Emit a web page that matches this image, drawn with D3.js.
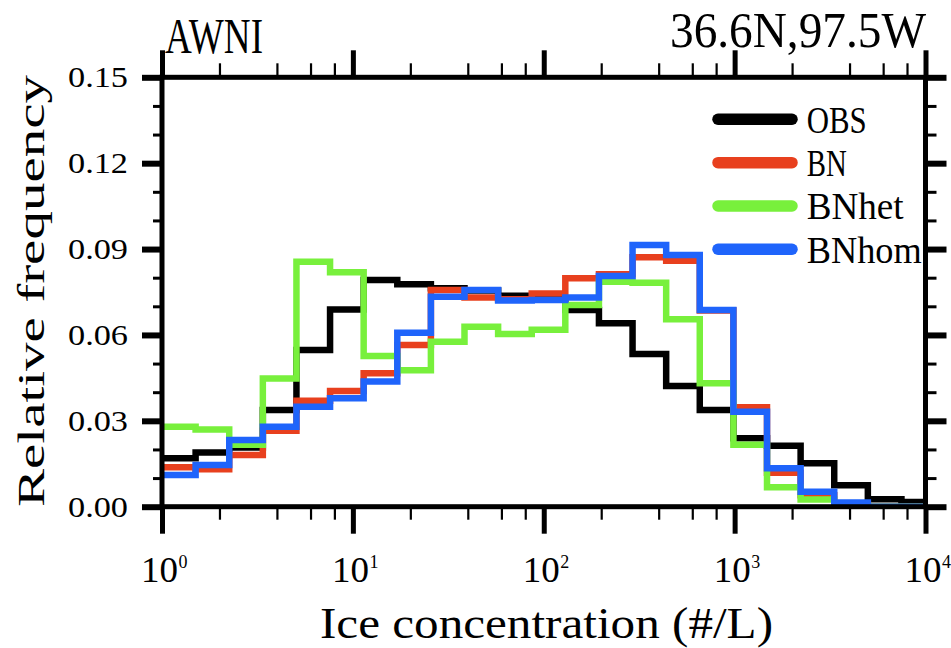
<!DOCTYPE html>
<html>
<head>
<meta charset="utf-8">
<script src="https://cdn.jsdelivr.net/npm/d3@7"></script>
<style>
  html, body { margin: 0; padding: 0; background: #fff; }
  svg { display: block; }
  text { font-family: "Liberation Serif", "DejaVu Serif", serif; fill: #000; }
</style>
</head>
<body>
<svg id="chart" width="951" height="648"></svg>
<script>
// ---- data ----
const binEdges = [1, 1.5, 2.25, 3.375, 5.0625, 7.594, 11.39, 17.09, 25.63, 38.44, 57.67, 86.5,
  129.7, 194.6, 291.9, 437.9, 656.8, 985.3, 1477.9, 2216.8, 3325.3, 4987.9, 7481.8, 11222.7];
const obs   = [0.0169, 0.0189, 0.0207, 0.0338, 0.0547, 0.0689, 0.0792, 0.0777, 0.0763, 0.0755, 0.0737, 0.0725,
  0.0687, 0.0641, 0.0533, 0.0422, 0.0338, 0.0239, 0.0213, 0.0152, 0.0075, 0.0026, 0.0016];
const bn    = [0.0138, 0.0131, 0.0181, 0.0265, 0.0370, 0.0404, 0.0466, 0.0565, 0.0757, 0.0731, 0.0725, 0.0745,
  0.0798, 0.0812, 0.0871, 0.0859, 0.0685, 0.0347, 0.0119, 0.0040, 0.0010, 0, 0];
const bnhet = [0.0279, 0.0270, 0.0216, 0.0448, 0.0856, 0.0819, 0.0526, 0.0477, 0.0576, 0.0629, 0.0603, 0.0618,
  0.0705, 0.0786, 0.0782, 0.0655, 0.0431, 0.0216, 0.0068, 0.0025, 0.0005, 0, 0];
const bnhom = [0.0111, 0.0146, 0.0233, 0.0279, 0.0349, 0.0379, 0.0437, 0.0608, 0.0733, 0.0757, 0.0720, 0.0722,
  0.0731, 0.0806, 0.0914, 0.0879, 0.0687, 0.0332, 0.0134, 0.0052, 0.0015, 0, 0];
const seriesNames = ["OBS", "BN", "BNhet", "BNhom"];
const seriesColors = ["#000000", "#e8401e", "#78f03c", "#1f64fb"];
const xMajorTicks = [1, 10, 100, 1000, 10000];
const xTickExponents = ["0", "1", "2", "3", "4"];
const xMinorTicks = [2,4,6,8,20,40,60,80,200,400,600,800,2000,4000,6000,8000];
const yMajorTicks = [0, 0.03, 0.06, 0.09, 0.12, 0.15];
const yTickLabels = ["0.00", "0.03", "0.06", "0.09", "0.12", "0.15"];
const yMinorTicks = [0.01,0.02,0.04,0.05,0.07,0.08,0.10,0.11,0.13,0.14];
const titleLeft = "AWNI";
const titleRight = "36.6N,97.5W";
const xTitle = "Ice concentration (#/L)";
const yTitle = "Relative frequency";

// ---- layout ----
const L = 162, R = 925.5, T = 77.3, B = 506.7;
const svg = d3.select("#chart");
const x = d3.scaleLog().domain([1, 10000]).range([L, R]);
const y = d3.scaleLinear().domain([0, 0.15]).range([B, T]);

svg.append("defs").append("clipPath").attr("id", "plotclip")
  .append("rect").attr("x", L).attr("y", T).attr("width", R - L).attr("height", B - T);

// ---- histogram step lines ----
const allSeries = [obs, bn, bnhet, bnhom];
const gLines = svg.append("g").attr("clip-path", "url(#plotclip)");
allSeries.forEach((vals, si) => {
  const pts = [];
  vals.forEach((v, i) => {
    pts.push([x(binEdges[i]), y(v)]);
    pts.push([x(binEdges[i + 1]), y(v)]);
  });
  gLines.append("path")
    .attr("d", d3.line()(pts))
    .attr("fill", "none")
    .attr("stroke", seriesColors[si])
    .attr("stroke-width", 6.5)
    .attr("stroke-linejoin", "miter");
});

// ---- axes ticks ----
function styleAxis(g, w) {
  g.select(".domain").remove();
  g.selectAll(".tick line").attr("stroke", "#000").attr("stroke-width", w);
  g.selectAll(".tick text").remove();
}
svg.append("g").attr("transform", `translate(0,${B})`)
  .call(d3.axisBottom(x).tickValues(xMajorTicks).tickSize(27).tickFormat(""))
  .call(g => styleAxis(g, 5));
svg.append("g").attr("transform", `translate(0,${B})`)
  .call(d3.axisBottom(x).tickValues(xMinorTicks).tickSize(13).tickFormat(""))
  .call(g => styleAxis(g, 2.2));
svg.append("g").attr("transform", `translate(0,${T})`)
  .call(d3.axisTop(x).tickValues(xMajorTicks).tickSize(27).tickFormat(""))
  .call(g => styleAxis(g, 5));
svg.append("g").attr("transform", `translate(0,${T})`)
  .call(d3.axisTop(x).tickValues(xMinorTicks).tickSize(14).tickFormat(""))
  .call(g => styleAxis(g, 2.2));
svg.append("g").attr("transform", `translate(${L},0)`)
  .call(d3.axisLeft(y).tickValues(yMajorTicks).tickSize(20).tickFormat(""))
  .call(g => styleAxis(g, 6));
svg.append("g").attr("transform", `translate(${L},0)`)
  .call(d3.axisLeft(y).tickValues(yMinorTicks).tickSize(9).tickFormat(""))
  .call(g => styleAxis(g, 3));
svg.append("g").attr("transform", `translate(${R},0)`)
  .call(d3.axisRight(y).tickValues(yMajorTicks).tickSize(21).tickFormat(""))
  .call(g => styleAxis(g, 6));
svg.append("g").attr("transform", `translate(${R},0)`)
  .call(d3.axisRight(y).tickValues(yMinorTicks).tickSize(11).tickFormat(""))
  .call(g => styleAxis(g, 3));

// ---- frame ----
svg.append("rect").attr("x", L).attr("y", T).attr("width", R - L).attr("height", B - T)
  .attr("fill", "none").attr("stroke", "#000").attr("stroke-width", 5);

// ---- tick labels ----
yMajorTicks.forEach((v, i) => {
  svg.append("text").attr("x", 128).attr("y", y(v) + 10)
    .attr("text-anchor", "end").attr("font-size", 30)
    .attr("textLength", 60).attr("lengthAdjust", "spacingAndGlyphs")
    .text(yTickLabels[i]);
});
xMajorTicks.forEach((v, i) => {
  const px = x(v);
  svg.append("text").attr("x", px - 21).attr("y", 582)
    .attr("font-size", 35).attr("textLength", 37).attr("lengthAdjust", "spacingAndGlyphs")
    .text("10");
  svg.append("text").attr("x", px + 16.5).attr("y", 568)
    .attr("font-size", 18).attr("textLength", 9).attr("lengthAdjust", "spacingAndGlyphs")
    .text(xTickExponents[i]);
});

// ---- titles ----
svg.append("text").attr("x", 165).attr("y", 53).attr("font-size", 50)
  .attr("textLength", 98).attr("lengthAdjust", "spacingAndGlyphs").text(titleLeft);
svg.append("text").attr("x", 670).attr("y", 47).attr("font-size", 50)
  .attr("textLength", 256).attr("lengthAdjust", "spacingAndGlyphs").text(titleRight);
svg.append("text").attr("x", 320).attr("y", 638).attr("font-size", 45)
  .attr("textLength", 453).attr("lengthAdjust", "spacingAndGlyphs").text(xTitle);
svg.append("text").attr("transform", "translate(43.5,507) rotate(-90)")
  .attr("x", 0).attr("y", 0).attr("font-size", 38)
  .attr("textLength", 432).attr("lengthAdjust", "spacingAndGlyphs").text(yTitle);

// ---- legend ----
const legendY = d3.scalePoint().domain(seriesNames).range([119.3, 249.3]);
const lg = svg.append("g");
seriesNames.forEach((name, i) => {
  const cy = legendY(name);
  lg.append("line").attr("x1", 718).attr("x2", 792).attr("y1", cy).attr("y2", cy)
    .attr("stroke", seriesColors[i]).attr("stroke-width", 11.5).attr("stroke-linecap", "round");
});
const legendWidths = [60, 40, 97, 115];
seriesNames.forEach((name, i) => {
  lg.append("text").attr("x", 806.7).attr("y", legendY(name) + 13.4)
    .attr("font-size", 38).attr("textLength", legendWidths[i]).attr("lengthAdjust", "spacingAndGlyphs")
    .text(name);
});
</script>
</body>
</html>
